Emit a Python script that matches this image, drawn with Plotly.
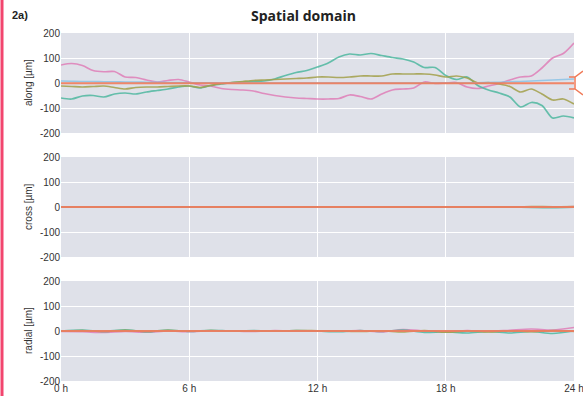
import plotly.graph_objects as go

# ---------------- data ----------------
hours_fine = [i * 0.5 for i in range(49)]   # 0 h .. 24 h, half-hour samples
hours = list(range(25))                      # 0 h .. 24 h, hourly samples

along_pink = [72, 78, 70, 50, 45, 46, 24, 22, 12, 4, 10, 14, 4, -8, -12, -22, -26, -28,
              -32, -42, -50, -56, -60, -62, -64, -64, -62, -48, -54, -64, -44, -28, -24,
              -20, 4, -2, 0, 2, -16, -22, -12, -2, 12, 24, 28, 60, 100, 118, 160]
along_teal = [-60, -64, -52, -50, -56, -44, -40, -44, -36, -30, -24, -16, -12, -20, -10,
              -4, 2, 4, 6, 8, 16, 30, 42, 50, 64, 80, 104, 116, 112, 118, 110, 102, 96,
              84, 62, 62, 30, 14, 24, -10, -28, -40, -56, -96, -78, -90, -140, -132, -140]
along_olive = [-12, -14, -16, -14, -12, -18, -24, -18, -16, -16, -14, -12, -12, -18, -10,
               -2, 2, 6, 10, 12, 14, 16, 18, 20, 24, 24, 22, 24, 28, 28, 28, 36, 36, 36,
               36, 32, 24, 28, 20, 0, 2, -4, -14, -36, -24, -44, -68, -64, -84]
along_blue = [8, 7, 6, 6, 5, 5, 4, 4, 3, 3, 2, 2, 1, 1, 1, 0, 0, 0, 0, 0, 0, 0, 0, 0, 0,
              0, 0, 0, 0, 0, 0, 0, 0, 0, 0, 0, 0, 0, 0, 1, 2, 3, 5, 6, 8, 10, 12, 14, 16]
along_orange = [-1] * 49

cross_pink = [0, 0, 1, 0, -1, 0, 0, 1, 0, 0, -1, 0, 0, 1, 0, 0, 0, -1, 0, 1, 0, 0, 1, 0, 2]
cross_teal = [0, -1, 0, 0, 1, 0, -1, 0, 0, 0, 1, 0, 0, -1, 0, 0, 0, 1, 0, -1, 0, 0, -2, -3, -1]
cross_olive = [0, 0, 0, 1, 0, 0, 0, 0, 1, 0, 0, 0, 1, 0, 0, 0, 1, 0, 0, 0, 1, 0, 2, 1, 2]
cross_blue = [0] * 25
cross_orange = [0] * 25

radial_pink = [-2, -3, -6, -2, -5, 0, -3, 1, 0, -2, 2, -1, 1, 0, 2, -4, 6, 0, -4, 2, -2, 3, 8, 4, 14]
radial_teal = [0, 4, -2, 5, -3, 4, -2, 3, 0, 2, -1, 2, 0, -3, 2, -2, 4, -6, -3, -8, -2, -8, -2, -10, 0]
radial_olive = [0, 2, -2, 3, -2, 3, -1, 2, 0, 1, 0, 2, 1, 0, -2, 1, -4, 2, -5, 0, -4, 1, -3, 2, -2]
radial_blue = [0] * 25
radial_orange = [0] * 25

y_ticks = [200, 100, 0, -100, -200]
y_tick_text = ["200", "100", "0", "-100", "-200"]
x_ticks = [0, 6, 12, 18, 24]
x_tick_text = ["0 h", "6 h", "12 h", "18 h", "24 h"]
panel_titles = ["along [µm]", "cross [µm]", "radial [µm]"]

colors = {"pink": "#e07fb8", "teal": "#4fb8a0", "olive": "#a3a04a",
          "blue": "#8cc3e6", "orange": "#f07a58"}

# ---------------- figure ----------------
W, H = 583, 396
ML, MR, MT, MB = 61, 9, 33, 15
ph = H - MT - MB
dom1 = [(ph - 100) / ph, 1]
dom2 = [(ph - 224) / ph, (ph - 124) / ph]
dom3 = [0, 100 / ph]
doms = [dom1, dom2, dom3]

fig = go.Figure()

panels = [
    (hours_fine, [along_pink, along_teal, along_olive, along_blue, along_orange], "x", "y"),
    (hours, [cross_pink, cross_teal, cross_olive, cross_blue, cross_orange], "x2", "y2"),
    (hours, [radial_pink, radial_teal, radial_olive, radial_blue, radial_orange], "x3", "y3"),
]
names = ["pink", "teal", "olive", "blue", "orange"]
for xs, series, xa, ya in panels:
    for nm, vals in zip(names, series):
        fig.add_trace(go.Scatter(
            x=xs, y=vals, mode="lines", xaxis=xa, yaxis=ya,
            line=dict(color=colors[nm], width=2 if nm == "orange" else 1.7,
                      shape="spline", smoothing=0.8),
            opacity=0.9 if nm == "orange" else 0.85,
            showlegend=False, hoverinfo="skip"))

bg = "#dfe1e9"
tickfont = dict(family="Liberation Sans, Arial", size=10, color="#333333")
common_x = dict(range=[0, 24], tickvals=x_ticks, ticktext=x_tick_text,
                showgrid=True, gridcolor="white", gridwidth=1, zeroline=False,
                showline=False, ticks="", tickfont=tickfont, automargin=False,
                ticklabeloverflow="allow")
common_y = dict(range=[-200, 200], tickvals=y_ticks, ticktext=y_tick_text,
                showgrid=True, gridcolor="white", gridwidth=1, zeroline=False,
                showline=False, ticks="", tickfont=tickfont, automargin=False,
                ticklabeloverflow="allow")

fig.update_layout(
    width=W, height=H, autosize=False,
    margin=dict(l=ML, r=MR, t=MT, b=MB, autoexpand=False),
    paper_bgcolor="white", plot_bgcolor=bg,
    xaxis=dict(**common_x, domain=[0, 1], anchor="y", showticklabels=False),
    xaxis2=dict(**common_x, domain=[0, 1], anchor="y2", showticklabels=False),
    xaxis3=dict(**common_x, domain=[0, 1], anchor="y3", showticklabels=True),
    yaxis=dict(**common_y, domain=dom1, anchor="x"),
    yaxis2=dict(**common_y, domain=dom2, anchor="x2"),
    yaxis3=dict(**common_y, domain=dom3, anchor="x3"),
)

pw = W - ML - MR
def px(xp):
    return (xp - ML) / pw
def py(yp):
    return (H - MB - yp) / ph

# y axis titles as rotated annotations
for title, dom in zip(panel_titles, doms):
    fig.add_annotation(text=title, xref="paper", yref="paper",
                       x=px(28), y=(dom[0] + dom[1]) / 2, textangle=-90,
                       xanchor="center", yanchor="middle", showarrow=False,
                       font=tickfont)

# red page border at the left edge
fig.add_shape(type="line", xref="paper", yref="paper", x0=px(2), x1=px(2),
              y0=py(0), y1=py(H), line=dict(color="#f2456e", width=3))

# orange bracket marker at the right edge of the top panel
path = (f"M {px(583)},{py(71)} L {px(575)},{py(77)} L {px(569)},{py(77)} "
        f"M {px(575)},{py(77)} L {px(575)},{py(89)} L {px(569)},{py(89)} "
        f"M {px(575)},{py(89)} L {px(583)},{py(95)}")
fig.add_shape(type="path", xref="paper", yref="paper", path=path,
              line=dict(color="#f07a58", width=1.5))

fig.add_annotation(text="<b>Spatial domain</b>", xref="paper", yref="paper",
                   x=px(303), y=py(15), xanchor="center", yanchor="middle",
                   showarrow=False,
                   font=dict(family="Open Sans", size=14, color="#222222"))
fig.add_annotation(text="<b>2a)</b>", xref="paper", yref="paper",
                   x=px(10), y=py(15), xanchor="left", yanchor="middle",
                   showarrow=False,
                   font=dict(family="Liberation Sans, Arial", size=11, color="#222222"))

fig.write_html("out.html", config={"displayModeBar": False},
               post_script="document.body.style.margin='0px';"
                           "document.body.style.overflow='hidden';")
